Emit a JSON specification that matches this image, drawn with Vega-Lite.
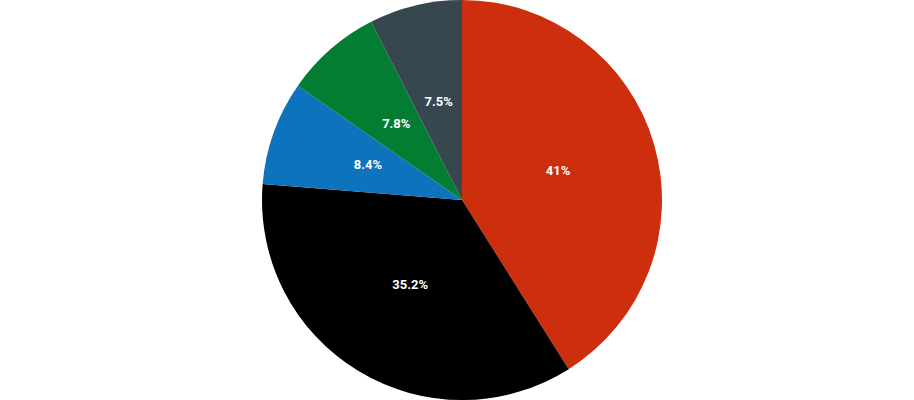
{
  "$schema": "https://vega.github.io/schema/vega-lite/v6.json",
  "width": 904,
  "height": 400,
  "autosize": {"type": "none"},
  "padding": {"left": 10, "right": 0, "top": 0, "bottom": 0},
  "background": "white",
  "view": {"stroke": null},
  "data": {
    "values": [
      {"category": "A", "value": 41.0, "label": "41%", "order": 1},
      {"category": "B", "value": 35.2, "label": "35.2%", "order": 2},
      {"category": "C", "value": 8.4, "label": "8.4%", "order": 3},
      {"category": "D", "value": 7.8, "label": "7.8%", "order": 4},
      {"category": "E", "value": 7.5, "label": "7.5%", "order": 5}
    ]
  },
  "encoding": {
    "theta": {"field": "value", "type": "quantitative", "stack": true},
    "order": {"field": "order", "type": "quantitative"}
  },
  "layer": [
    {
      "mark": {"type": "arc", "radius": 200, "stroke": null},
      "encoding": {
        "color": {
          "field": "category",
          "type": "nominal",
          "scale": {"domain": ["A", "B", "C", "D", "E"], "range": ["#cc2e0e", "#000000", "#0d73bc", "#037d32", "#37474f"]},
          "legend": null
        }
      }
    },
    {
      "mark": {"type": "text", "radius": 100, "dy": -1, "fill": "white", "font": "Roboto", "fontSize": 13, "fontWeight": "bold", "align": "center", "baseline": "middle"},
      "encoding": {
        "text": {"field": "label", "type": "nominal"}
      }
    }
  ]
}
